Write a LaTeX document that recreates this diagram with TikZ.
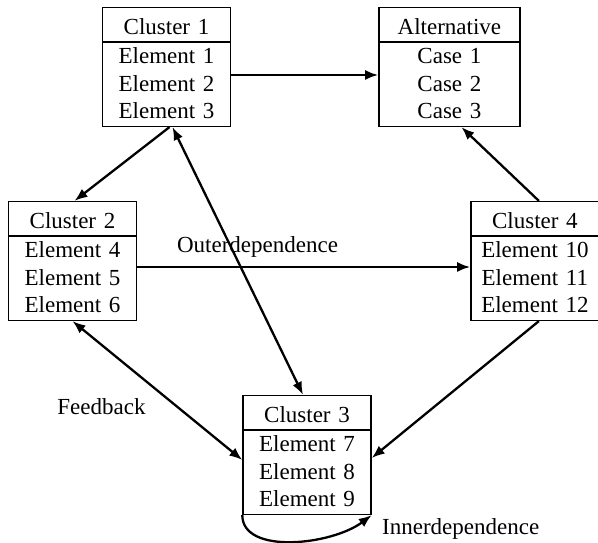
\documentclass[tikz,border=0pt]{standalone}
\usepackage{fontspec}
\setmainfont{Liberation Serif}
\usepackage{tikz}
\usetikzlibrary{positioning,arrows.meta,shapes.multipart}

\newcommand\headstrut{\rule[-3.5pt]{0pt}{26pt}}
\newcommand\linestrut{\rule[-3.5pt]{0pt}{21pt}}

\begin{document}
\begin{tikzpicture}[
        x=1pt, y=1pt,
        >={Latex[length=13pt,width=10pt]},
        cluster/.style={
            rectangle split,
            rectangle split parts=2,
            draw=black,
            line width=1.4pt,
            align=center,
            text width=120pt,
            inner xsep=4pt,
            inner ysep=3.5pt,
            font=\fontsize{23}{27.5}\selectfont
        },
        altbox/.style={cluster, text width=133pt},
        label/.style={font=\fontsize{23}{27.5}\selectfont, inner sep=0pt},
        arrow/.style={->, line width=2.3pt},
        biarrow/.style={<->, line width=2.3pt}
    ]

    \useasboundingbox (0,0) rectangle (598,543);

    \node[cluster] (cluster1) at (166.5,476) {
        \headstrut Cluster 1
        \nodepart{two}
        \linestrut Element 1\\
        \linestrut Element 2\\
        \linestrut Element 3
    };

    \node[altbox, right=147pt of cluster1] (alternative) {
        \headstrut Alternative
        \nodepart{two}
        \linestrut Case 1\\
        \linestrut Case 2\\
        \linestrut Case 3
    };

    \node[cluster] (cluster2) at (72.5,282) {
        \headstrut Cluster 2
        \nodepart{two}
        \linestrut Element 4\\
        \linestrut Element 5\\
        \linestrut Element 6
    };

    \node[cluster, right=333pt of cluster2] (cluster4) {
        \headstrut Cluster 4
        \nodepart{two}
        \linestrut Element 10\\
        \linestrut Element 11\\
        \linestrut Element 12
    };

    \node[cluster] (cluster3) at (307,88) {
        \headstrut Cluster 3
        \nodepart{two}
        \linestrut Element 7\\
        \linestrut Element 8\\
        \linestrut Element 9
    };

    \node[label, anchor=base] (outer) at (257.5,290) {Outerdependence};
    \node[label, anchor=base] (feedback) at (101.5,128) {Feedback};
    \node[label, anchor=base west] (inner) at (382,8) {Innerdependence};

    \draw[arrow] ([yshift=-8pt]cluster1.east) -- ([yshift=-8pt]alternative.west);
    \draw[arrow] ([xshift=3pt]cluster1.south) -- ([xshift=2pt]cluster2.north);
    \draw[biarrow] ([xshift=6pt]cluster1.south) -- ([xshift=-4pt]cluster3.north);
    \draw[arrow] ([yshift=-6pt]cluster2.east) -- ([yshift=-6pt]cluster4.west);
    \draw[arrow] ([xshift=4pt]cluster4.north) -- ([xshift=12pt]alternative.south);
    \draw[arrow] ([xshift=4pt]cluster4.south) -- ([yshift=-3pt]cluster3.east);
    \draw[biarrow] (cluster2.south) -- ([yshift=-5pt]cluster3.west);
    \draw[arrow] (cluster3.south west) .. controls +(0,-40) and +(-40,-30) .. (cluster3.south east);

\end{tikzpicture}
\end{document}
